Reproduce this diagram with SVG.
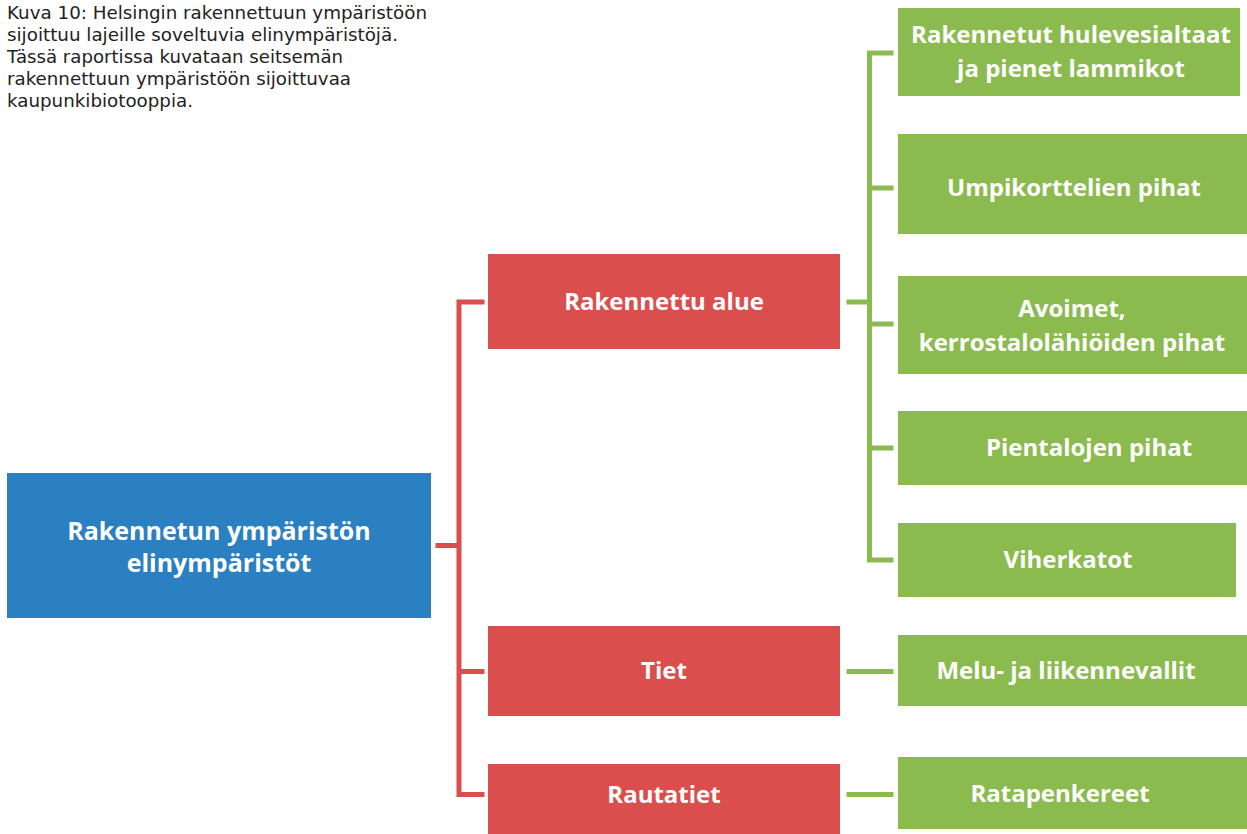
<svg xmlns="http://www.w3.org/2000/svg" width="1247" height="834" viewBox="0 0 1247 834">
<style>
.cap{font-family:"DejaVu Sans","Liberation Sans",sans-serif;font-size:17.5px;fill:#222}
.t{font-family:"Open Sans","Liberation Sans",sans-serif;font-weight:700;fill:#fff;text-anchor:middle}
.g{font-size:24px}
.r{font-size:24px}
.b{font-size:25px}
.blue{fill:#2b80c1}
.red{fill:#db4e4e}
.green{fill:#8bbb4f}
.lr{stroke:#db4e4e;stroke-width:5;fill:none;stroke-linecap:square;stroke-linejoin:miter}
.lg{stroke:#8bbb4f;stroke-width:5;fill:none;stroke-linecap:square;stroke-linejoin:miter}
</style>
<rect width="1247" height="834" fill="#fff"/>
<g id="caption" class="cap">
<text x="7" y="19" textLength="420" lengthAdjust="spacingAndGlyphs">Kuva 10: Helsingin rakennettuun ympäristöön</text>
<text x="7" y="41" textLength="391" lengthAdjust="spacingAndGlyphs">sijoittuu lajeille soveltuvia elinympäristöjä.</text>
<text x="7" y="63" textLength="336" lengthAdjust="spacingAndGlyphs">Tässä raportissa kuvataan seitsemän</text>
<text x="7" y="85" textLength="344" lengthAdjust="spacingAndGlyphs">rakennettuun ympäristöön sijoittuvaa</text>
<text x="7" y="107" textLength="186" lengthAdjust="spacingAndGlyphs">kaupunkibiotooppia.</text>
</g>
<g id="connectors">
<path class="lr" d="M438 545.5H459M482 302H459V794.5H482M459 671.5H482"/>
<path class="lg" d="M849 302H869.5M891 53H869.5V560H891M869.5 188H891M869.5 324H891M869.5 448H891"/>
<path class="lg" d="M849 671.5H891M849 794.5H891"/>
</g>
<g id="root"><rect class="blue" x="7" y="473" width="424" height="145"/>
<text class="t b" x="219" y="540">Rakennetun ympäristön</text>
<text class="t b" x="219" y="572">elinympäristöt</text></g>
<g id="rakennettu-alue"><rect class="red" x="488" y="254" width="352" height="95"/>
<text class="t r" x="664" y="310">Rakennettu alue</text></g>
<g id="tiet"><rect class="red" x="488" y="626" width="352" height="90"/>
<text class="t r" x="664" y="679">Tiet</text></g>
<g id="rautatiet"><rect class="red" x="488" y="764" width="352" height="70"/>
<text class="t r" x="664" y="803">Rautatiet</text></g>
<g id="hulevesialtaat"><rect class="green" x="898" y="8" width="342" height="88"/>
<text class="t g" x="1071" y="43">Rakennetut hulevesialtaat</text>
<text class="t g" x="1071" y="77">ja pienet lammikot</text></g>
<g id="umpikorttelit"><rect class="green" x="898" y="134" width="349" height="100"/>
<text class="t g" x="1074" y="196">Umpikorttelien pihat</text></g>
<g id="avoimet"><rect class="green" x="898" y="276" width="349" height="98"/>
<text class="t g" x="1072" y="317">Avoimet,</text>
<text class="t g" x="1072" y="351">kerrostalolähiöiden pihat</text></g>
<g id="pientalot"><rect class="green" x="898" y="411" width="349" height="74"/>
<text class="t g" x="1089" y="456">Pientalojen pihat</text></g>
<g id="viherkatot"><rect class="green" x="898" y="523" width="338" height="74"/>
<text class="t g" x="1068" y="568">Viherkatot</text></g>
<g id="meluvallit"><rect class="green" x="898" y="635" width="349" height="71"/>
<text class="t g" x="1066" y="679">Melu- ja liikennevallit</text></g>
<g id="ratapenkereet"><rect class="green" x="898" y="757" width="349" height="72"/>
<text class="t g" x="1060" y="802">Ratapenkereet</text></g>
</svg>
